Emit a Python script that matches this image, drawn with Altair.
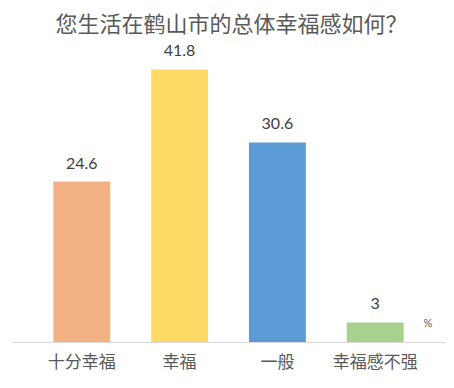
import altair as alt
import pandas as pd

categories = ["十分幸福", "幸福", "一般", "幸福感不强"]
values = [24.6, 41.8, 30.6, 3]
colors = ["#F4B183", "#FFD966", "#5B9BD5", "#A9D18E"]
labels = ["24.6", "41.8", "30.6", "3"]

df = pd.DataFrame({"cat": categories, "val": values, "label": labels})

x = alt.X("cat:N", sort=categories, title=None,
          scale=alt.Scale(paddingInner=0.418, paddingOuter=0.433),
          axis=alt.Axis(labelAngle=0, labelFontSize=17, labelColor="#595959",
                        labelFont="Noto Sans CJK SC", labelPadding=12,
                        ticks=False, domainColor="#D9D9D9", domainWidth=1.2,
                        grid=False))
y = alt.Y("val:Q", scale=alt.Scale(domain=[0, 46]), axis=None)

bars = alt.Chart(df).mark_bar().encode(
    x=x, y=y,
    color=alt.Color("cat:N", scale=alt.Scale(domain=categories, range=colors), legend=None),
)

text = alt.Chart(df).mark_text(baseline="alphabetic", dy=-13, fontSize=16,
                               font="Lato", color="#404040").encode(
    x=alt.X("cat:N", sort=categories), y=y, text="label:N")

pct = alt.Chart(pd.DataFrame({"t": ["%"]})).mark_text(
    fontSize=11, color="#595959", font="Lato").encode(
    x=alt.value(417), y=alt.value(282), text="t:N")

chart = alt.layer(bars, text, pct).properties(
    width=435, height=300,
    title=alt.TitleParams("您生活在鹤山市的总体幸福感如何？", fontSize=22,
                          font="Noto Sans CJK SC", fontWeight="normal",
                          color="#595959", anchor="middle", offset=5, dx=3),
    padding={"left": 3, "top": 6, "right": 0, "bottom": 6},
).configure_view(stroke=None)

chart.save("out.html", embed_options={"renderer": "svg", "actions": False})
